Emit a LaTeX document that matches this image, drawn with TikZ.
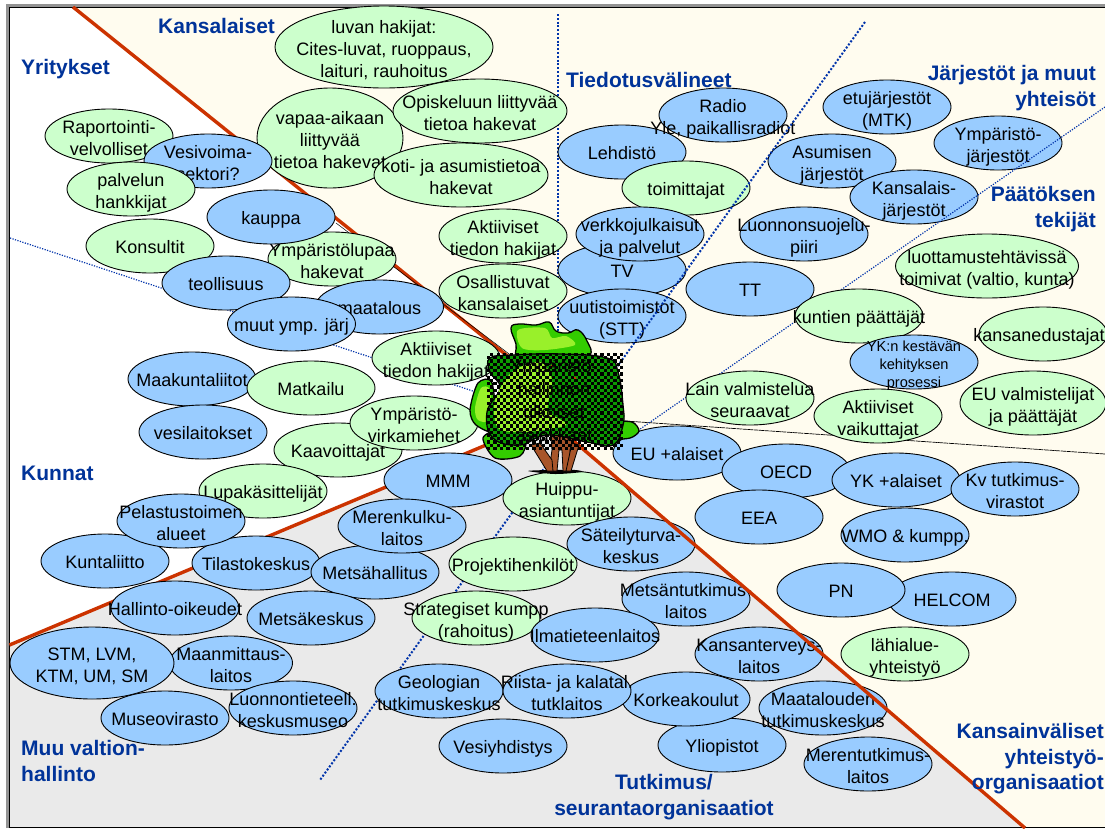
\documentclass[tikz,border=0pt]{standalone}
\usepackage{fontspec}
\setmainfont{Liberation Sans}
\usetikzlibrary{shapes.geometric}
\definecolor{bluefill}{HTML}{99CCFF}
\definecolor{greenfill}{HTML}{CCFFCC}
\definecolor{creamfill}{HTML}{FFFCEF}
\definecolor{grayfill}{HTML}{EAEAEA}
\definecolor{redline}{HTML}{CC3300}
\definecolor{headblue}{HTML}{003399}
\definecolor{dotblue}{HTML}{0033AA}
\definecolor{leafdark}{HTML}{0C9A00}
\definecolor{leafmid}{HTML}{33CC00}
\definecolor{leaflime}{HTML}{99F02A}
\definecolor{barkcol}{HTML}{A8552A}
\tikzset{
  bubble/.style={ellipse,draw=black,line width=0.9pt,inner sep=0pt,outer sep=0pt,minimum width=128pt,minimum height=54pt},
  bb/.style={bubble,fill=bluefill},
  gb/.style={bubble,fill=greenfill},
  redln/.style={draw=redline,line width=3.4pt},
  dotthick/.style={draw=dotblue,line width=2pt,dash pattern=on 2pt off 1.8pt},
  dotthin/.style={draw=dotblue,line width=1.2pt,dash pattern=on 1.2pt off 1.4pt},
  head/.style={text=headblue,font=\fontsize{21}{25.5}\selectfont\bfseries,inner sep=0pt},
  headl/.style={head,anchor=west,align=left},
  headr/.style={head,anchor=east,align=right},
  leafout/.style={draw=black,line width=1.3pt},
  barkout/.style={draw=black,line width=0.8pt,fill=barkcol}
}
\makeatletter
\newcommand\bub[6][]{\in@{\\}{#6}\ifin@\def\bubdrop{-8pt}\else\def\bubdrop{-7pt}\fi
  \node[#2,#1] (#3) at (#4,#5) {\fontsize{18}{22}\selectfont\raisebox{\bubdrop}[0pt][0pt]{\makebox[0pt]{\begin{tabular}[c]{@{}c@{}}#6\end{tabular}}}};}
\makeatother
\begin{document}
\begin{tikzpicture}[x=1pt,y=-1pt]
\useasboundingbox (0,0) rectangle (1105,828);
\clip (0,0) rectangle (1105,828);
% regions
\fill[white] (0,0) rectangle (1105,828);
\fill[creamfill] (73,7) -- (1105,7) -- (1105,828) -- (1025,828) -- (548,419) -- (540,385) -- cycle;
\fill[grayfill] (9.5,645) -- (548,419) -- (1025,828) -- (9.5,828) -- cycle;
% frame
\draw[gray!85,line width=2.6pt] (7.2,828) -- (7.2,5.2) -- (1105,5.2);
\draw[black,line width=0.9pt] (9.4,828) -- (9.4,7) -- (1105,7);
\draw[black,line width=0.9pt] (9.4,827.4) -- (1105,827.4);
% borders under the bubbles
\coordinate (ulstart) at (73,7);
\coordinate (ulend) at (520,366);
\coordinate (llstart) at (9.5,645);
\coordinate (llend) at (548,419);
\draw[redln] (ulstart) -- (ulend);
\draw[black,line width=0.5pt] (336,223) -- (525,366);
\draw[redln] (llstart) -- (llend);
\coordinate (vstart) at (558,14);
\coordinate (vend) at (558,350);
\draw[dotthick] (vstart) -- (vend);
\coordinate (lstart) at (10,238);
\coordinate (lend) at (500,400);
\draw[dotthin] (lstart) -- (lend);
\coordinate (bstart) at (625,421);
\coordinate (bend) at (1105,454);
\draw[black,line width=0.7pt,dash pattern=on 5pt off 0.6pt] (bstart) -- (bend);
% lower part of the diagonal under its bubbles: drawn before them
\coordinate (dstart) at (865,22);
\coordinate (dend) at (320,780);
\begin{scope}
\clip (0,400) rectangle (1105,828);
\draw[dotthick] (dstart) -- (dend);
\end{scope}
% Kansalaiset
\bub[minimum width=218pt,minimum height=82pt]{gb}{luvan}{384}{47}{luvan hakijat:\\Cites-luvat, ruoppaus,\\laituri, rauhoitus}
\bub[minimum width=146pt,minimum height=100pt]{gb}{vapaa}{330}{138}{vapaa-aikaan\\liittyvää\\tietoa hakevat}
\bub[minimum width=174pt,minimum height=64pt]{gb}{opisk}{480}{111}{Opiskeluun liittyvää\\tietoa hakevat}
\bub[minimum width=174pt,minimum height=64pt]{gb}{koti}{461}{175}{koti- ja asumistietoa\\hakevat}
\bub{gb}{akt1}{503}{236}{Aktiiviset\\tiedon hakijat}
\bub{gb}{osal}{503}{291}{Osallistuvat\\kansalaiset}
% Yritykset
\bub{gb}{rap}{109}{136}{Raportointi-\\velvolliset}
\bub{bb}{vesiv}{208}{161}{Vesivoima-\\sektori?}
\bub{gb}{palv}{131}{189}{palvelun\\hankkijat}
\bub{gb}{kons}{150}{246}{Konsultit}
\bub{gb}{ymplupa}{332}{259}{Ympäristölupaa\\hakevat}
\bub{bb}{kaup}{271}{217}{kauppa}
\bub{bb}{teol}{226}{283}{teollisuus}
\bub{bb}{maat}{379.5}{307}{maatalous}
\bub{bb}{muut}{291.5}{324}{muut ymp. järj}
% Kunnat
\bub{gb}{akt2}{436}{358}{Aktiiviset\\tiedon hakijat}
\bub{bb}{maak}{192}{379}{Maakuntaliitot}
\bub{gb}{matk}{311}{388}{Matkailu}
\bub{bb}{vesil}{203}{432}{vesilaitokset}
\bub{gb}{kaav}{338}{450}{Kaavoittajat}
\bub{gb}{ympv}{414}{423}{Ympäristö-\\virkamiehet}
\bub{gb}{lupa}{263}{491}{Lupakäsittelijät}
\bub{bb}{kunt}{105}{561}{Kuntaliitto}
\bub{bb}{tila}{256}{563}{Tilastokeskus}
\bub{bb}{pela}{181}{521}{Pelastustoimen\\alueet}
% Muu valtionhallinto
\bub{bb}{mmm}{448}{480}{MMM}
\bub{gb}{huip}{567}{498}{Huippu-\\asiantuntijat}
\bub{bb}{meth}{375}{572}{Metsähallitus}
\bub{bb}{mere}{402}{526}{Merenkulku-\\laitos}
\bub{gb}{proj}{513}{564}{Projektihenkilöt}
\bub{bb}{sate}{631}{544}{Säteilyturva-\\keskus}
\bub{bb}{halo}{175}{608}{Hallinto-oikeudet}
\bub{bb}{metk}{311}{618}{Metsäkeskus}
\bub{gb}{stra}{476}{618}{Strategiset kumpp\\(rahoitus)}
\bub[minimum width=123pt]{bb}{maan}{231}{663}{Maanmittaus-\\laitos}
\bub[minimum width=164pt,minimum height=72pt]{bb}{stm}{92}{663}{STM, LVM,\\KTM, UM, SM}
\bub{bb}{muse}{165}{718}{Museovirasto}
\bub{bb}{luon}{293}{708}{Luonnontieteell.\\keskusmuseo}
\bub{bb}{geol}{439}{691}{Geologian\\tutkimuskeskus}
% Tutkimus
\bub{bb}{metu}{686}{599}{Metsäntutkimus-\\laitos}
\bub{bb}{ilma}{595}{635}{Ilmatieteenlaitos}
\bub{bb}{kans}{759}{654}{Kansanterveys-\\laitos}
\bub{bb}{ylio}{722}{745}{Yliopistot}
\bub{bb}{kork}{686}{699}{Korkeakoulut}
\bub{bb}{riis}{567}{691}{Riista- ja kalatal.\\tutklaitos}
\bub{bb}{maal}{823}{708}{Maatalouden\\tutkimuskeskus}
\bub{bb}{meru}{868}{764}{Merentutkimus-\\laitos}
\bub{bb}{vesy}{503}{746}{Vesiyhdistys}
% Tiedotus
\bub{bb}{lehd}{622}{152}{Lehdistö}
\bub{bb}{radi}{723}{115}{Radio\\Yle, paikallisradiot}
\bub{gb}{toim}{686}{188}{toimittajat}
\bub{bb}{tv}{622}{270}{TV}
\bub{bb}{verk}{640}{234}{verkkojulkaisut\\ja palvelut}
\bub{bb}{uuti}{622}{316}{uutistoimistot\\(STT)}
\bub{bb}{tt}{750}{289}{TT}
% Jarjestot
\bub{bb}{etuj}{887}{107}{etujärjestöt\\(MTK)}
\bub{bb}{asum}{832}{161}{Asumisen\\järjestöt}
\bub{bb}{ymjj}{998}{143}{Ympäristö-\\järjestöt}
\bub{bb}{lsuo}{804}{234}{Luonnonsuojelu-\\piiri}
\bub{bb}{kasj}{914}{197}{Kansalais-\\järjestöt}
% upper part of the diagonal and the thin line over those bubbles
\begin{scope}
\clip (0,0) rectangle (1105,400);
\draw[dotthick] (dstart) -- (dend);
\end{scope}
\coordinate (rstart) at (1105,107);
\coordinate (rend) at (620,443);
\draw[dotthin] (rstart) -- (rend);
% Paatoksen tekijat
\bub[minimum width=183pt,minimum height=64pt]{gb}{luot}{987}{266}{luottamustehtävissä\\toimivat (valtio, kunta)}
\bub{gb}{kunp}{859}{316}{kuntien päättäjät}
\bub{gb}{kane}{1043}{334}{kansanedustajat\hspace*{8pt}}
\node[bb] (ykn) at (914,362) {\fontsize{14.6}{18}\selectfont\raisebox{-7pt}[0pt][0pt]{\makebox[0pt]{\begin{tabular}[c]{@{}c@{}}YK:n kestävän\\kehityksen\\prosessi\end{tabular}}}};
\bub{gb}{lain}{750}{398}{Lain valmistelua\\seuraavat}
\bub{gb}{avai}{878}{416}{Aktiiviset\\vaikuttajat}
\bub[minimum width=146pt,minimum height=64pt]{gb}{euva}{1033}{403}{EU valmistelijat\\ja päättäjät}
% Kansainvaliset
\bub{bb}{eual}{677}{453}{EU +alaiset}
\bub{bb}{oecd}{786}{471}{OECD}
\bub{bb}{ykal}{896}{480}{YK +alaiset}
\bub{bb}{kvtu}{1015}{489}{Kv tutkimus-\\virastot}
\bub{bb}{eea}{759}{517}{EEA}
\bub{bb}{wmo}{905}{535}{WMO \& kumpp.}
\bub{bb}{helc}{952}{599}{HELCOM}
\bub{bb}{pn}{841}{590}{PN}
\bub{gb}{lahi}{905}{654}{lähialue-\\yhteistyö}
% lower right red border lies over its bubbles
\coordinate (lrstart) at (548,419);
\coordinate (lrend) at (1025,828);
\draw[redln] (lrstart) -- (lrend);
% headings
\node[headl] (hkans) at (158,26) {Kansalaiset};
\node[headl] (hyri) at (21,69) {Yritykset};
\node[headl] (htie) at (566,80) {Tiedotusvälineet};
\node[headr] (hjar) at (1096,88) {Järjestöt ja muut\\yhteisöt};
\node[headr] (hpaa) at (1096,209) {Päätöksen\\tekijät};
\node[headl] (hkun) at (21,473) {Kunnat};
\node[headl] (hmuu) at (21,761) {Muu valtion-\\hallinto};
\node[head,align=center] (htut) at (664,797) {Tutkimus/\\seurantaorganisaatiot};
\node[headr] (hkv) at (1104,759) {Kansainväliset\\yhteistyö-\\organisaatiot};
% tree
\fill[black] plot[smooth cycle] coordinates {(528,471) (550,470) (575,470) (582,472) (555,474)};
\draw[barkout] (550,425) -- (552,450) -- (549,471) -- (557,471) -- (559,450) -- (562,450) -- (563,471) -- (570,471) -- (570,450) -- (576,425) -- cycle;
\draw[barkout] (531,445) -- (540,443) -- (552,460) -- (553,471) -- (547,471) -- cycle;
\draw[barkout] (572,443) -- (579,445) -- (571,471) -- (566,471) -- cycle;
\draw[leafout,fill=leafmid] plot[smooth cycle] coordinates {(470,410) (478,383) (492,383) (495,430) (476,425)};
\fill[leaflime] plot[smooth cycle] coordinates {(475,408) (481,388) (490,390) (490,420) (478,420)};
\draw[leafout,fill=leafmid] plot[smooth cycle] coordinates {(483,438) (500,430) (525,440) (520,456) (495,458)};
\draw[leafout,fill=leafmid] plot[smooth cycle] coordinates {(612,423) (632,422) (639,431) (630,438) (612,438)};
\draw[leafout,fill=leafmid] plot[smooth cycle,tension=0.7] coordinates {(511,328) (519,324) (536,325) (549,322) (556,331) (568,333) (578,330) (587,341) (589,356) (560,366) (520,360) (516,344)};
\fill[leaflime] plot[smooth cycle] coordinates {(518,330) (545,328) (552,338) (566,336) (575,345) (545,350) (522,348)};
\draw[leafout,fill=leafdark] plot[smooth cycle,tension=0.7] coordinates {(490,358) (513,355) (560,354) (607,358) (618,372) (623,405) (623,425) (613,445) (587,442) (547,435) (520,445) (493,438) (487,412) (500,388) (490,372)};
\fill[leaflime] plot[smooth cycle] coordinates {(495,400) (512,372) (540,362) (552,380) (548,410) (566,425) (525,432) (498,428)};
\fill[redline] (552,366) circle (1.5pt) (575,378) circle (1.5pt);
\node[inner sep=0pt,align=center,font=\fontsize{18}{23}\selectfont] (ctr) at (554,401) {Ympäristö-\\hallinnon\\ulkoiset\\asiakkaat};
% screen of the central box
\foreach \i in {0,...,41}{\foreach \j in {0,...,29}{%
  \ifodd\numexpr\i+\j\relax
    \fill[black] ({487+\i*3.24},{353+\j*3.24}) rectangle ++(3.24,3.24);
  \fi}}
\end{tikzpicture}
\end{document}
